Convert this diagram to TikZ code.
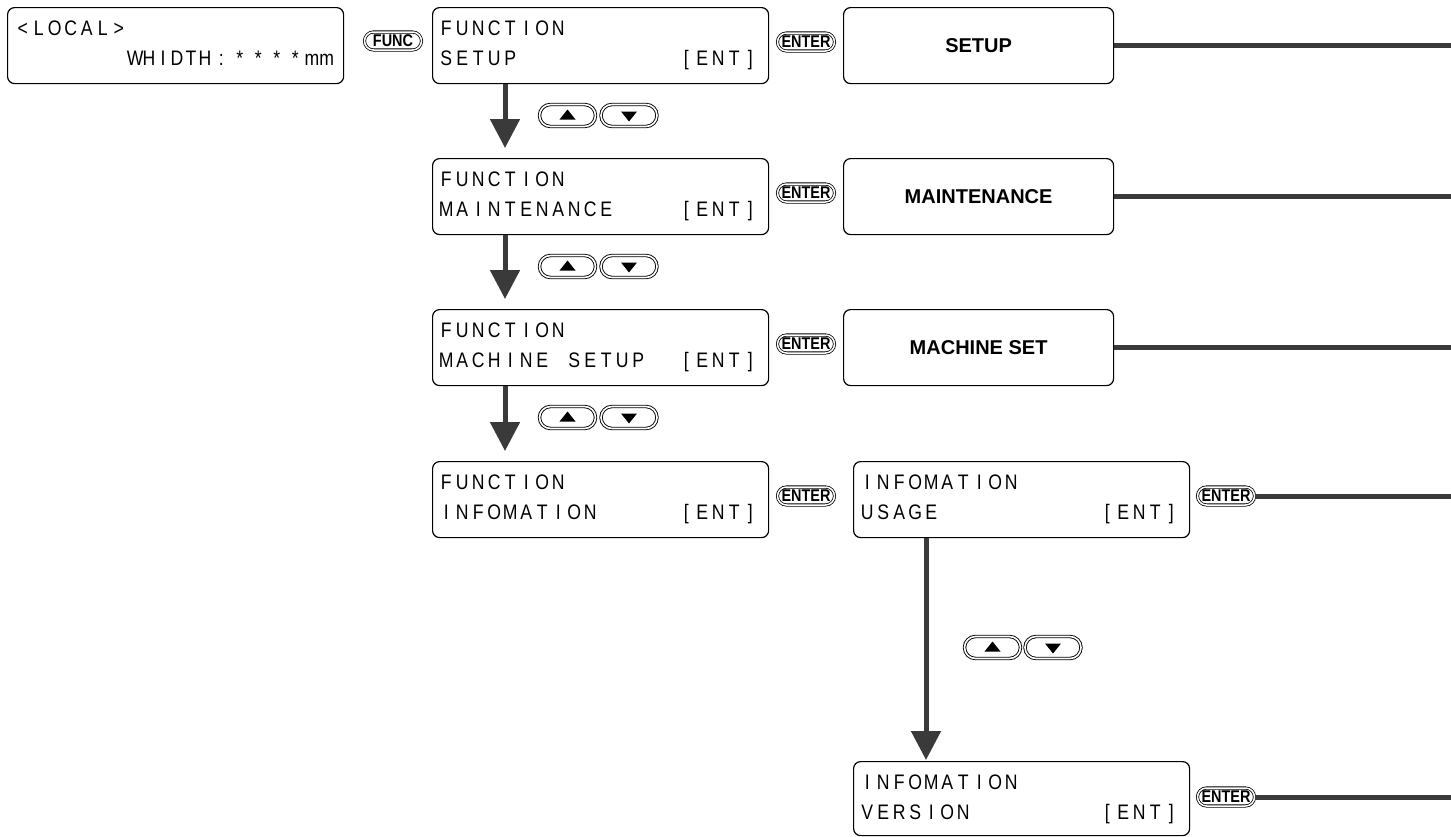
\documentclass[tikz,border=0pt]{standalone}
\usepackage{fontspec}
\setmainfont{Liberation Sans}
\usepackage{graphicx}
\usetikzlibrary{arrows.meta,shapes.misc}
\definecolor{arrowgray}{HTML}{3A3A3A}
\newcommand\lcdfont{\fontsize{21}{21}\selectfont}
\ExplSyntaxOn
\NewDocumentCommand\lcdtext{O{16pt}m}
  {
    \str_map_inline:nn {#2}
      {
        \str_if_eq:nnTF {##1} {|}
          { \makebox[#1]{} }
          { \makebox[#1][c]{\scalebox{0.84}[1]{##1}} }
      }
  }
\ExplSyntaxOff
\begin{document}
\begin{tikzpicture}[x=1pt,y=-1pt,
  lcd/.style={draw, line width=1.2pt, rounded corners=7pt, minimum width=336pt,
    minimum height=76pt, anchor=north west, inner sep=0pt},
  rbox/.style={draw, line width=1.2pt, rounded corners=7pt, minimum width=270pt,
    minimum height=76pt, anchor=north west, inner sep=0pt,
    font=\bfseries\fontsize{20}{20}\selectfont},
  lcdt/.style={anchor=base west, inner sep=0pt, font=\lcdfont},
  lcdr/.style={anchor=base east, inner sep=0pt, font=\lcdfont},
  key/.style={rounded rectangle, draw, double, double distance=1.5pt, line width=0.8pt,
    minimum width=57pt, minimum height=18pt, inner sep=0pt,
    font=\fontsize{17}{17}\selectfont\bfseries},
  akey/.style={rounded rectangle, draw, double, double distance=1.6pt, line width=0.9pt,
    minimum width=56pt, minimum height=22pt, inner sep=0pt},
  flow/.style={line width=5pt, draw=arrowgray, -{Triangle[width=29pt,length=29pt]}},
  hline/.style={line width=5pt, draw=arrowgray},
  tri/.style={fill=black}
]
\useasboundingbox (0,0) rectangle (1451,836);
\coordinate (rb) at (1451,0);

% LOCAL box
\node[lcd] (local) at (7,7) {};
\node[lcdt] (localA) at ([xshift=7.5pt,yshift=-28pt]local.north west) {\lcdtext{<LOCAL>}};
\node[lcdr] (localB) at ([xshift=-10pt,yshift=-58pt]local.north east)
  {\lcdtext[14pt]{WHIDTH}\lcdtext[18.5pt]{:****}\scalebox{0.84}[1]{mm}};
\node[key] (func) at (393,41) {\scalebox{0.85}[1]{FUNC}};

% column 2 LCDs
\node[lcd] (f1) at (432,7) {};
\node[lcd] (f2) at (432,158) {};
\node[lcd] (f3) at (432,309) {};
\node[lcd] (f4) at (432,461) {};
\foreach \n/\t in {f1/SETUP||||||||||[ENT], f2/MAINTENANCE||||[ENT], f3/MACHINE|SETUP||[ENT], f4/INFOMATION|||||[ENT]}{
  \node[lcdt] (\n a) at ([xshift=6pt,yshift=-28pt]\n.north west) {\lcdtext{FUNCTION}};
  \node[lcdt] (\n b) at ([xshift=6pt,yshift=-58pt]\n.north west) {\expandafter\lcdtext\expandafter{\t}};
}

% ENTER keys column 2
\node[key] (k1) at (806,42) {\scalebox{0.85}[1]{ENTER}};
\node[key] (k2) at (806,193) {\scalebox{0.85}[1]{ENTER}};
\node[key] (k3) at (806,344) {\scalebox{0.85}[1]{ENTER}};
\node[key] (k4) at (806,496) {\scalebox{0.85}[1]{ENTER}};

% right boxes
\node[rbox] (s1) at (843,7) {SETUP};
\node[rbox] (s2) at (843,158) {MAINTENANCE};
\node[rbox] (s3) at (843,309) {MACHINE SET};
\draw[hline] (s1.east) -- (s1.east -| rb);
\draw[hline] (s2.east) -- (s2.east -| rb);
\draw[hline] (s3.east) -- (s3.east -| rb);

% information LCDs
\node[lcd] (u) at (853,461) {};
\node[lcd, minimum height=74pt] (v) at (853,761) {};
\node[lcdt] (ua) at ([xshift=6pt,yshift=-28pt]u.north west) {\lcdtext{INFOMATION}};
\node[lcdt] (ub) at ([xshift=6pt,yshift=-58pt]u.north west) {\lcdtext{USAGE||||||||||[ENT]}};
\node[lcdt] (va) at ([xshift=6pt,yshift=-28pt]v.north west) {\lcdtext{INFOMATION}};
\node[lcdt] (vb) at ([xshift=6pt,yshift=-58pt]v.north west) {\lcdtext{VERSION||||||||[ENT]}};

\node[key] (k5) at (1226,496) {\scalebox{0.85}[1]{ENTER}};
\node[key] (k6) at (1226,797) {\scalebox{0.85}[1]{ENTER}};
\draw[hline] (k5.east) -- (k5.east -| rb);
\draw[hline] (k6.east) -- (k6.east -| rb);

% vertical flow arrows
\draw[flow] ([xshift=73pt]f1.south west) -- ([xshift=73pt,yshift=10pt]f2.north west);
\draw[flow] ([xshift=73pt]f2.south west) -- ([xshift=73pt,yshift=10pt]f3.north west);
\draw[flow] ([xshift=73pt]f3.south west) -- ([xshift=73pt,yshift=10pt]f4.north west);
\draw[flow] ([xshift=73pt]u.south west) -- ([xshift=73pt,yshift=1pt]v.north west);

% arrow keys
\foreach \n/\y in {1/115.5, 2/266.5, 3/417.5}{
  \node[akey] (up\n) at (567.5,\y) {};
  \node[akey] (dn\n) at (629,\y) {};
  \fill[tri] (up\n.center) ++(-8,4) -- ++(16,0) -- ++(-8,-10) -- cycle;
  \fill[tri] (dn\n.center) ++(-8,-4) -- ++(16,0) -- ++(-8,10) -- cycle;
}
\node[akey] (up4) at (992.5,647.5) {};
\node[akey] (dn4) at (1053,647.5) {};
\fill[tri] (up4.center) ++(-8,4) -- ++(16,0) -- ++(-8,-10) -- cycle;
\fill[tri] (dn4.center) ++(-8,-4) -- ++(16,0) -- ++(-8,10) -- cycle;
\end{tikzpicture}
\end{document}
